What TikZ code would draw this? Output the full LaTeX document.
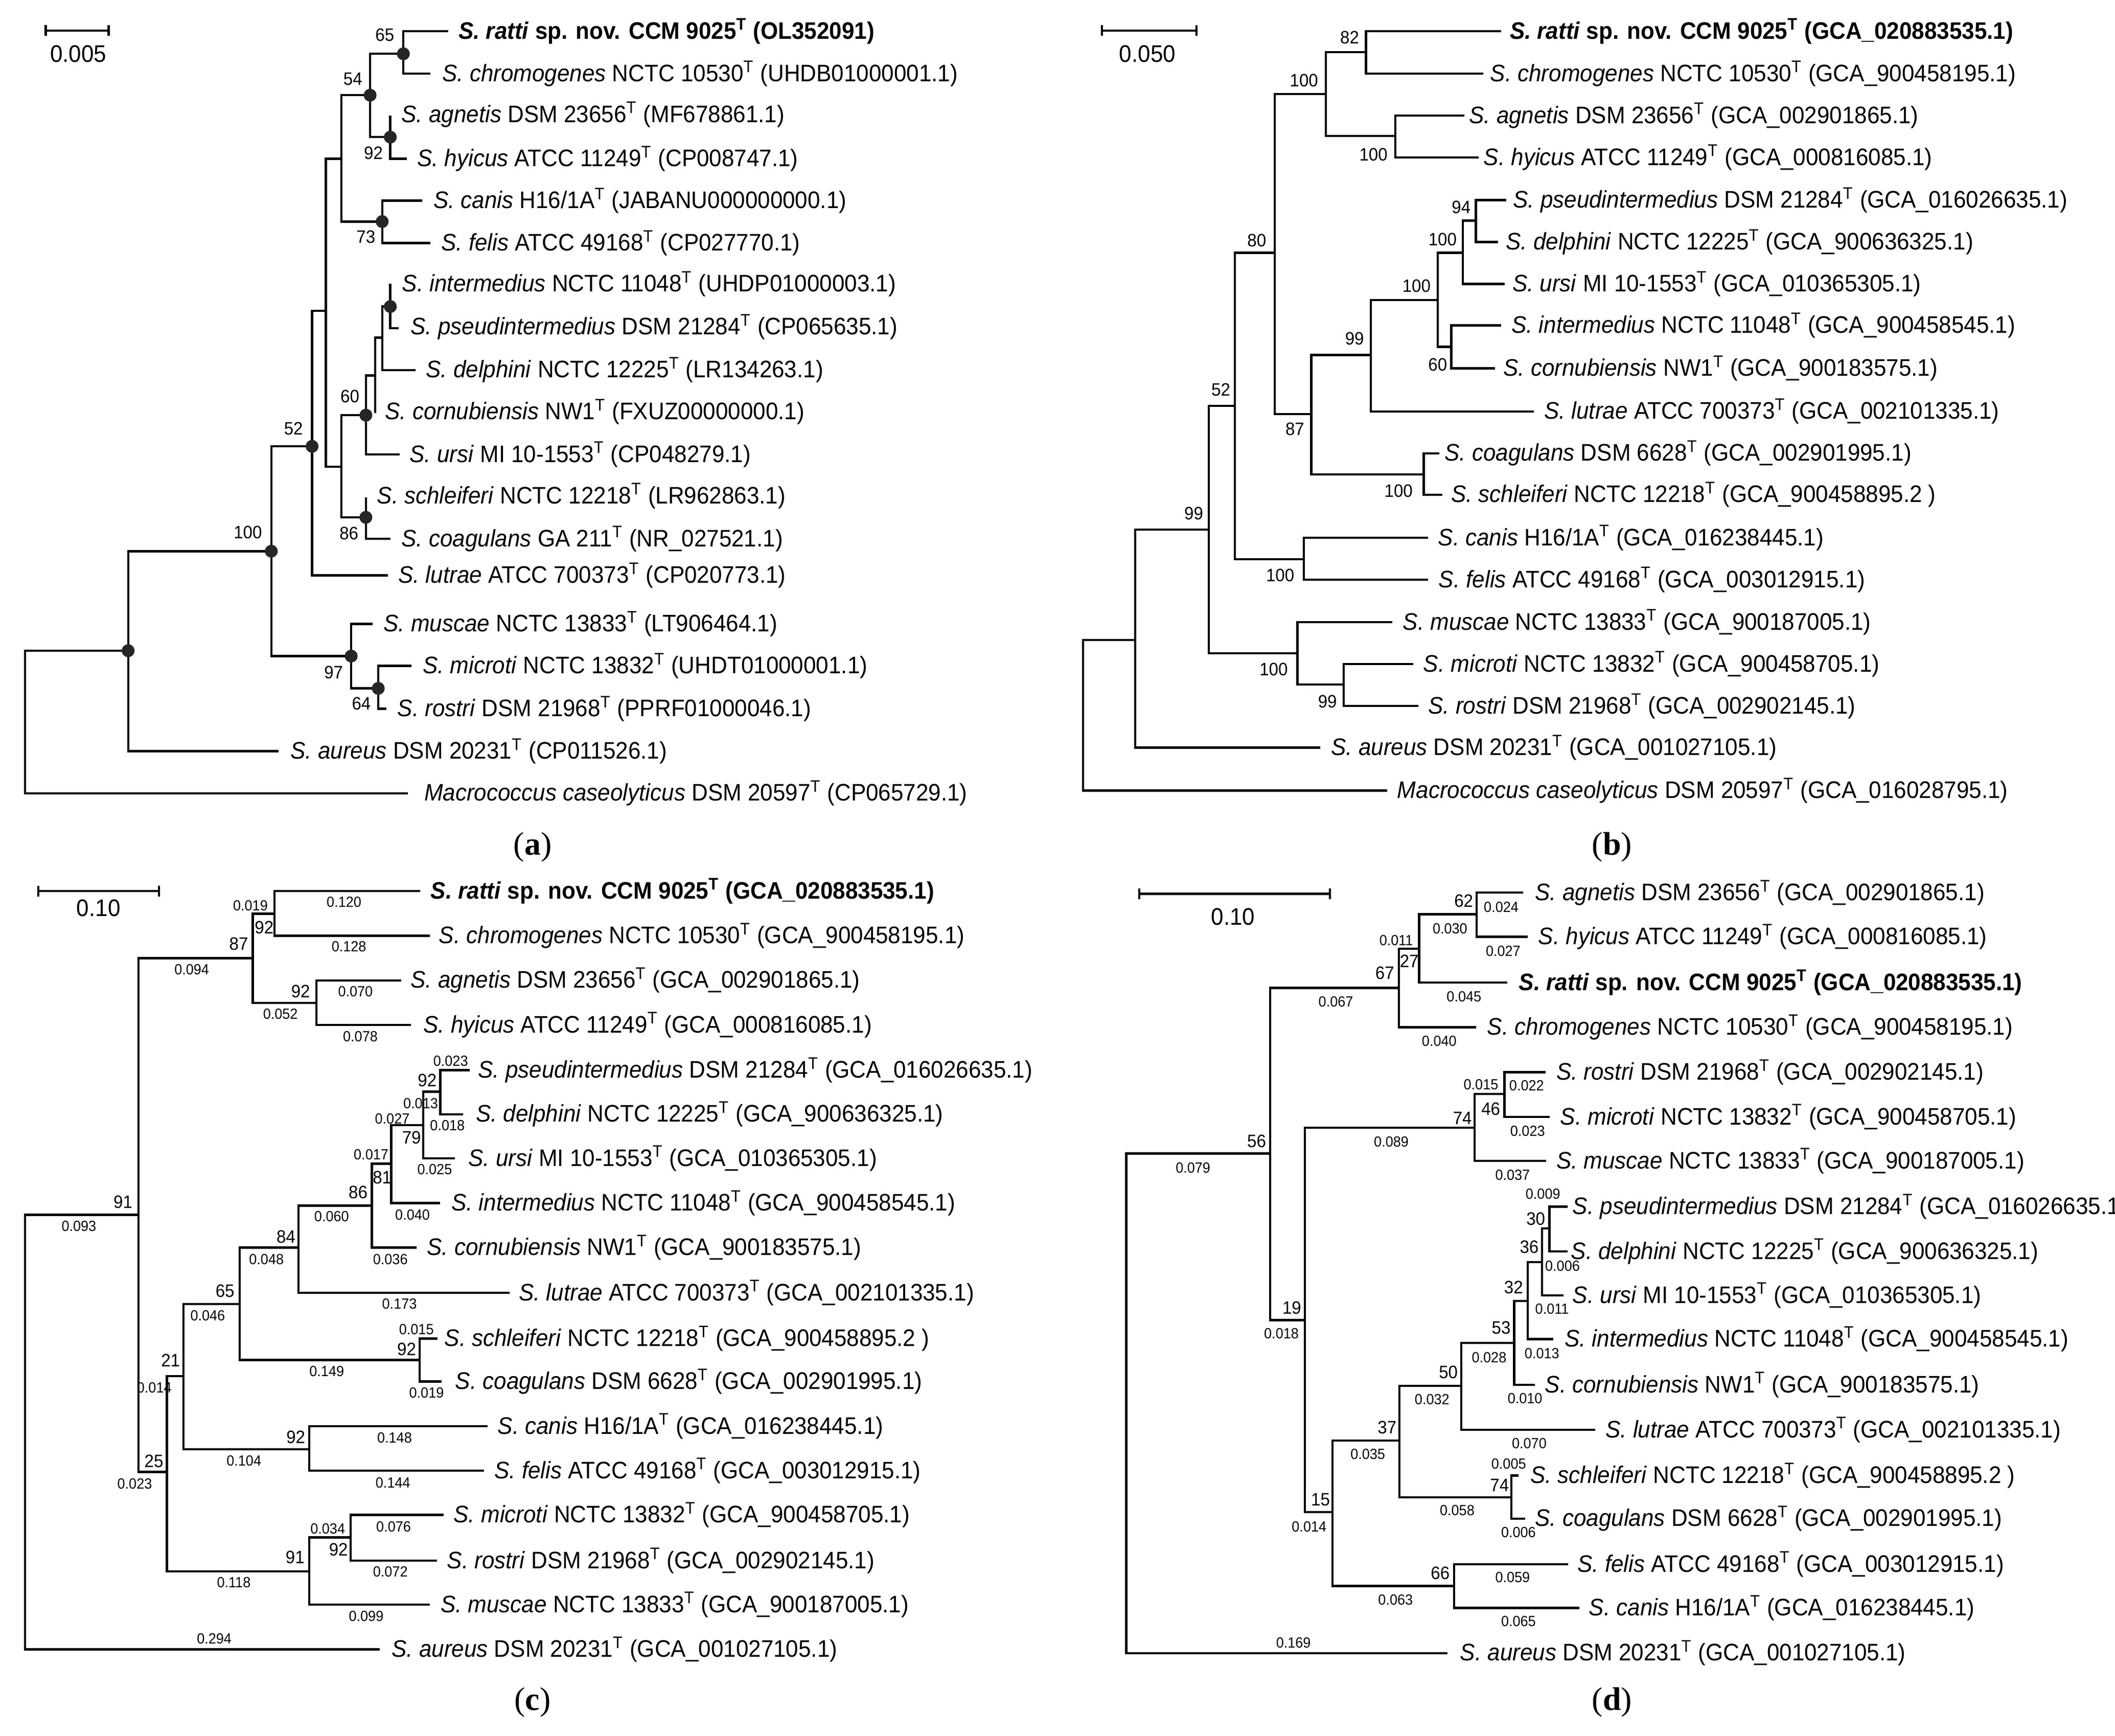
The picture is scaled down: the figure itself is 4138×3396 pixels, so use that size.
\documentclass[tikz,border=0pt]{standalone}
\usepackage{fontspec}
\setmainfont{Liberation Sans}[FakeStretch=0.94]
\newfontfamily\serifl{Liberation Serif}
\newcommand\lblf{\fontsize{11.7}{14}\selectfont}
\newcommand\bsf{\fontsize{8.8}{10}\selectfont}
\newcommand\blf{\fontsize{7.2}{8}\selectfont}
\newcommand\cld[5]{\draw[br] (#4,#2) -- (#1,#2) -- (#1,#3) -- (#5,#3);}
\newcommand\lf[4]{\node[lab] (#3) at (#1,#2) {#4};}
\newcommand\bs[3]{\node[bsn] at (#1,#2) {#3};}
\newcommand\bl[3]{\node[bln] at (#1,#2) {#3};}
\newcommand\Tt{\textsuperscript{T}}
\tikzset{br/.style={line width=1.1pt},
lab/.style={anchor=west,inner sep=0pt,font=\lblf},
bsn/.style={inner sep=0pt,font=\bsf},
bln/.style={inner sep=0pt,font=\blf},
dot/.style={circle,fill=black!85,inner sep=0pt,minimum size=6.3pt},
pl/.style={font=\serifl\fontsize{16}{18}\selectfont}}
\begin{document}
\begin{tikzpicture}[x=0.25pt,y=-0.25pt]
\useasboundingbox (0,0) rectangle (4138,3396);
% ---------- (a)
\begin{scope}[xscale=0.638,yscale=1.052]
\draw[br] (140,47)--(140,67) (140,57)--(333,57)--(333,47)--(333,67);
\node[font=\lblf] (sa) at (240,100) {0.005};
\cld{1237}{58}{137}{1375}{1320}
\cld{1197}{215}{295}{1197}{1248}
\cld{1135}{100}{255}{1237}{1197}
\cld{1172}{373}{452}{1295}{1320}
\cld{1047}{177}{412}{1135}{1172}
\cld{1197}{528}{610}{1197}{1222}
\cld{1172}{570}{688}{1197}{1275}
\cld{1150}{628}{768}{1172}{1150}
\draw[br] (1122,698)--(1150,698);
\cld{1122}{698}{845}{1150}{1225}
\cld{1122}{925}{1002}{1122}{1197}
\cld{1047}{772}{962}{1122}{1122}
\cld{999}{295}{868}{1047}{1047}
\cld{957}{578}{1070}{999}{1190}
\cld{1160}{1238}{1318}{1262}{1185}
\cld{1077}{1160}{1280}{1142}{1160}
\cld{832}{830}{1220}{957}{1077}
\cld{393}{1025}{1397}{832}{855}
\cld{77}{1210}{1475}{393}{1250}
\foreach \p in {(1237,100),(1135,177),(1197,255),(1172,412),(1197,570),(1122,772),(1122,962),(957,830),(832,1025),(1077,1220),(1160,1280),(393,1210)} \node[dot] at \p {};
\bs{1180}{65}{65}\bs{1082}{147}{54}\bs{1145}{285}{92}\bs{1122}{440}{73}\bs{1073}{737}{60}
\bs{900}{797}{52}\bs{760}{990}{100}\bs{1023}{1250}{97}\bs{1108}{1308}{64}\bs{1070}{992}{86}
\lf{1405}{58}{a1}{\textbf{\textit{S. ratti} sp. nov. CCM 9025\Tt\ (OL352091)}}
\lf{1355}{137}{a2}{\textit{S. chromogenes} NCTC 10530\Tt\ (UHDB01000001.1)}
\lf{1230}{213}{a3}{\textit{S. agnetis} DSM 23656\Tt\ (MF678861.1)}
\lf{1278}{295}{a4}{\textit{S. hyicus} ATCC 11249\Tt\ (CP008747.1)}
\lf{1328}{373}{a5}{\textit{S. canis} H16/1A\Tt\ (JABANU000000000.1)}
\lf{1352}{452}{a6}{\textit{S. felis} ATCC 49168\Tt\ (CP027770.1)}
\lf{1232}{528}{a7}{\textit{S. intermedius} NCTC 11048\Tt\ (UHDP01000003.1)}
\lf{1258}{608}{a8}{\textit{S. pseudintermedius} DSM 21284\Tt\ (CP065635.1)}
\lf{1305}{688}{a9}{\textit{S. delphini} NCTC 12225\Tt\ (LR134263.1)}
\lf{1180}{766}{a10}{\textit{S. cornubiensis} NW1\Tt\ (FXUZ00000000.1)}
\lf{1255}{845}{a11}{\textit{S. ursi} MI 10-1553\Tt\ (CP048279.1)}
\lf{1155}{922}{a12}{\textit{S. schleiferi} NCTC 12218\Tt\ (LR962863.1)}
\lf{1230}{1002}{a13}{\textit{S. coagulans} GA 211\Tt\ (NR\_027521.1)}
\lf{1220}{1070}{a14}{\textit{S. lutrae} ATCC 700373\Tt\ (CP020773.1)}
\lf{1175}{1160}{a15}{\textit{S. muscae} NCTC 13833\Tt\ (LT906464.1)}
\lf{1295}{1238}{a16}{\textit{S. microti} NCTC 13832\Tt\ (UHDT01000001.1)}
\lf{1218}{1318}{a17}{\textit{S. rostri} DSM 21968\Tt\ (PPRF01000046.1)}
\lf{890}{1397}{a18}{\textit{S. aureus} DSM 20231\Tt\ (CP011526.1)}
\lf{1300}{1475}{a19}{\textit{Macrococcus caseolyticus} DSM 20597\Tt\ (CP065729.1)}
\end{scope}
\node[pl] (pa) at (1042,1657) {(\textbf{a})};
% ---------- (b)
\begin{scope}[shift={(2060,0)},xscale=0.638,yscale=1.052]
\draw[br] (150,47)--(150,67) (150,57)--(440,57)--(440,47)--(440,67);
\node[font=\lblf] (sb) at (290,100) {0.050};
\cld{92}{1190}{1470}{252}{1025}
\cld{252}{985}{1390}{478}{820}
\cld{478}{755}{1215}{558}{750}
\cld{750}{1157}{1273}{1040}{892}
\cld{892}{1235}{1313}{1105}{1120}
\cld{558}{470}{1040}{680}{770}
\cld{770}{1000}{1078}{1150}{1150}
\cld{680}{175}{770}{837}{792}
\cld{837}{97}{253}{960}{1050}
\cld{960}{58}{137}{1375}{1320}
\cld{1050}{215}{293}{1262}{1305}
\cld{792}{660}{882}{975}{1137}
\cld{975}{558}{765}{1180}{1475}
\cld{1180}{470}{645}{1257}{1222}
\cld{1257}{410}{528}{1297}{1385}
\cld{1297}{372}{450}{1390}{1365}
\cld{1222}{605}{685}{1375}{1355}
\cld{1137}{843}{920}{1185}{1195}
\bs{910}{70}{82}\bs{770}{150}{100}\bs{983}{287}{100}\bs{1252}{385}{94}\bs{1195}{445}{100}
\bs{1115}{532}{100}\bs{925}{630}{99}\bs{1180}{678}{60}\bs{625}{447}{80}\bs{742}{798}{87}
\bs{1060}{913}{100}\bs{515}{725}{52}\bs{432}{955}{99}\bs{697}{1070}{100}\bs{677}{1245}{100}\bs{842}{1305}{99}
\lf{1400}{58}{b1}{\textbf{\textit{S. ratti} sp. nov. CCM 9025\Tt\ (GCA\_020883535.1)}}
\lf{1340}{137}{b2}{\textit{S. chromogenes} NCTC 10530\Tt\ (GCA\_900458195.1)}
\lf{1275}{215}{b3}{\textit{S. agnetis} DSM 23656\Tt\ (GCA\_002901865.1)}
\lf{1320}{293}{b4}{\textit{S. hyicus} ATCC 11249\Tt\ (GCA\_000816085.1)}
\lf{1410}{372}{b5}{\textit{S. pseudintermedius} DSM 21284\Tt\ (GCA\_016026635.1)}
\lf{1388}{450}{b6}{\textit{S. delphini} NCTC 12225\Tt\ (GCA\_900636325.1)}
\lf{1408}{528}{b7}{\textit{S. ursi} MI 10-1553\Tt\ (GCA\_010365305.1)}
\lf{1405}{605}{b8}{\textit{S. intermedius} NCTC 11048\Tt\ (GCA\_900458545.1)}
\lf{1380}{685}{b9}{\textit{S. cornubiensis} NW1\Tt\ (GCA\_900183575.1)}
\lf{1505}{765}{b10}{\textit{S. lutrae} ATCC 700373\Tt\ (GCA\_002101335.1)}
\lf{1200}{843}{b11}{\textit{S. coagulans} DSM 6628\Tt\ (GCA\_002901995.1)}
\lf{1220}{920}{b12}{\textit{S. schleiferi} NCTC 12218\Tt\ (GCA\_900458895.2 )}
\lf{1180}{1000}{b13}{\textit{S. canis} H16/1A\Tt\ (GCA\_016238445.1)}
\lf{1182}{1078}{b14}{\textit{S. felis} ATCC 49168\Tt\ (GCA\_003012915.1)}
\lf{1072}{1157}{b15}{\textit{S. muscae} NCTC 13833\Tt\ (GCA\_900187005.1)}
\lf{1135}{1235}{b16}{\textit{S. microti} NCTC 13832\Tt\ (GCA\_900458705.1)}
\lf{1150}{1313}{b17}{\textit{S. rostri} DSM 21968\Tt\ (GCA\_002902145.1)}
\lf{852}{1390}{b18}{\textit{S. aureus} DSM 20231\Tt\ (GCA\_001027105.1)}
\lf{1055}{1470}{b19}{\textit{Macrococcus caseolyticus} DSM 20597\Tt\ (GCA\_016028795.1)}
\end{scope}
\node[pl] (pb) at (3154,1657) {(\textbf{b})};
% ---------- (c)
\begin{scope}[shift={(0,1680)},xscale=0.638,yscale=1.052]
\draw[br] (118,50)--(118,70) (118,60)--(487,60)--(487,50)--(487,70);
\node[font=\lblf] (sc) at (302,92) {0.10};
\cld{77}{662}{1470}{425}{1165}
\cld{425}{185}{1140}{775}{512}
\cld{775}{102}{268}{842}{970}
\cld{842}{60}{143}{1288}{1318}
\cld{970}{226}{309}{1230}{1260}
\cld{512}{962}{1325}{563}{948}
\cld{563}{828}{1098}{735}{948}
\cld{948}{1262}{1387}{1075}{1318}
\cld{1075}{1220}{1305}{1360}{1340}
\cld{948}{1055}{1138}{1495}{1485}
\cld{735}{723}{932}{915}{1287}
\cld{1287}{892}{972}{1342}{1355}
\cld{915}{645}{807}{1140}{1562}
\cld{1140}{567}{723}{1200}{1278}
\cld{1200}{495}{640}{1298}{1350}
\cld{1298}{433}{557}{1350}{1395}
\cld{1350}{393}{475}{1440}{1420}
\bs{377}{638}{91}\bs{732}{158}{87}\bs{472}{1120}{25}\bs{810}{128}{92}\bs{922}{247}{92}
\bs{523}{933}{21}\bs{905}{1299}{91}\bs{690}{804}{65}\bs{907}{1075}{92}\bs{1038}{1285}{92}
\bs{877}{703}{84}\bs{1247}{912}{92}\bs{1098}{620}{86}\bs{1172}{593}{81}\bs{1262}{518}{79}\bs{1310}{412}{92}
\bl{657}{1450}{0.294}\bl{242}{683}{0.093}\bl{588}{206}{0.094}\bl{413}{1162}{0.023}
\bl{768}{87}{0.019}\bl{860}{289}{0.052}\bl{1055}{80}{0.120}\bl{1070}{163}{0.128}
\bl{1090}{247}{0.070}\bl{1105}{330}{0.078}\bl{473}{983}{0.014}\bl{717}{1346}{0.118}
\bl{637}{849}{0.046}\bl{748}{1119}{0.104}\bl{1123}{1408}{0.099}\bl{1005}{1246}{0.034}
\bl{1207}{1242}{0.076}\bl{1197}{1326}{0.072}\bl{1210}{1077}{0.148}\bl{1205}{1160}{0.144}
\bl{817}{745}{0.048}\bl{1002}{953}{0.149}\bl{1277}{875}{0.015}\bl{1308}{993}{0.019}
\bl{1225}{828}{0.173}\bl{1017}{665}{0.060}\bl{1197}{745}{0.036}\bl{1138}{550}{0.017}
\bl{1265}{662}{0.040}\bl{1203}{483}{0.027}\bl{1333}{578}{0.025}\bl{1290}{455}{0.013}
\bl{1382}{376}{0.023}\bl{1372}{496}{0.018}
\lf{1320}{60}{c1}{\textbf{\textit{S. ratti} sp. nov. CCM 9025\Tt\ (GCA\_020883535.1)}}
\lf{1345}{143}{c2}{\textit{S. chromogenes} NCTC 10530\Tt\ (GCA\_900458195.1)}
\lf{1258}{226}{c3}{\textit{S. agnetis} DSM 23656\Tt\ (GCA\_002901865.1)}
\lf{1297}{309}{c4}{\textit{S. hyicus} ATCC 11249\Tt\ (GCA\_000816085.1)}
\lf{1465}{393}{c5}{\textit{S. pseudintermedius} DSM 21284\Tt\ (GCA\_016026635.1)}
\lf{1458}{475}{c6}{\textit{S. delphini} NCTC 12225\Tt\ (GCA\_900636325.1)}
\lf{1435}{557}{c7}{\textit{S. ursi} MI 10-1553\Tt\ (GCA\_010365305.1)}
\lf{1383}{640}{c8}{\textit{S. intermedius} NCTC 11048\Tt\ (GCA\_900458545.1)}
\lf{1308}{723}{c9}{\textit{S. cornubiensis} NW1\Tt\ (GCA\_900183575.1)}
\lf{1590}{807}{c10}{\textit{S. lutrae} ATCC 700373\Tt\ (GCA\_002101335.1)}
\lf{1362}{892}{c11}{\textit{S. schleiferi} NCTC 12218\Tt\ (GCA\_900458895.2 )}
\lf{1395}{972}{c12}{\textit{S. coagulans} DSM 6628\Tt\ (GCA\_002901995.1)}
\lf{1525}{1055}{c13}{\textit{S. canis} H16/1A\Tt\ (GCA\_016238445.1)}
\lf{1515}{1138}{c14}{\textit{S. felis} ATCC 49168\Tt\ (GCA\_003012915.1)}
\lf{1390}{1220}{c15}{\textit{S. microti} NCTC 13832\Tt\ (GCA\_900458705.1)}
\lf{1370}{1305}{c16}{\textit{S. rostri} DSM 21968\Tt\ (GCA\_002902145.1)}
\lf{1350}{1387}{c17}{\textit{S. muscae} NCTC 13833\Tt\ (GCA\_900187005.1)}
\lf{1200}{1470}{c18}{\textit{S. aureus} DSM 20231\Tt\ (GCA\_001027105.1)}
\end{scope}
\node[pl] (pc) at (1042,3330) {(\textbf{c})};
% ---------- (d)
\begin{scope}[shift={(2100,1680)},xscale=0.638,yscale=1.052]
\draw[br] (202,55)--(202,75) (202,65)--(787,65)--(787,55)--(787,75);
\node[font=\lblf] (sd) at (490,108) {0.10};
\cld{162}{548}{1477}{603}{1148}
\cld{603}{240}{858}{998}{710}
\cld{998}{167}{313}{1060}{1235}
\cld{1060}{103}{230}{1237}{1330}
\cld{1237}{63}{145}{1380}{1393}
\cld{710}{500}{1215}{1230}{795}
\cld{1230}{437}{562}{1322}{1450}
\cld{1322}{397}{480}{1448}{1460}
\cld{795}{1082}{1352}{1000}{1168}
\cld{1168}{1312}{1393}{1517}{1552}
\cld{1000}{980}{1187}{1190}{1343}
\cld{1343}{1147}{1227}{1365}{1385}
\cld{1190}{900}{1062}{1352}{1600}
\cld{1352}{822}{978}{1393}{1415}
\cld{1393}{750}{893}{1437}{1472}
\cld{1437}{687}{812}{1460}{1503}
\cld{1460}{647}{730}{1515}{1515}
\bs{562}{525}{56}\bs{955}{212}{67}\bs{670}{835}{19}\bs{1030}{190}{27}\bs{1197}{78}{62}
\bs{1193}{482}{74}\bs{758}{1192}{15}\bs{1280}{465}{46}\bs{962}{1057}{37}\bs{1125}{1328}{66}
\bs{1150}{955}{50}\bs{1307}{1165}{74}\bs{1312}{872}{53}\bs{1350}{797}{32}\bs{1398}{722}{36}\bs{1418}{670}{30}
\bl{675}{1458}{0.169}\bl{367}{575}{0.079}\bl{805}{266}{0.067}\bl{638}{883}{0.018}
\bl{1122}{339}{0.040}\bl{990}{152}{0.011}\bl{1198}{256}{0.045}\bl{1155}{130}{0.030}
\bl{1312}{90}{0.024}\bl{1318}{172}{0.027}\bl{975}{526}{0.089}\bl{723}{1242}{0.014}
\bl{1347}{588}{0.037}\bl{1250}{420}{0.015}\bl{1390}{422}{0.022}\bl{1393}{506}{0.023}
\bl{903}{1107}{0.035}\bl{988}{1378}{0.063}\bl{1347}{1336}{0.059}\bl{1365}{1418}{0.065}
\bl{1100}{1005}{0.032}\bl{1177}{1212}{0.058}\bl{1335}{1125}{0.005}\bl{1365}{1252}{0.006}
\bl{1398}{1087}{0.070}\bl{1275}{927}{0.028}\bl{1385}{1003}{0.010}\bl{1437}{920}{0.013}
\bl{1468}{837}{0.011}\bl{1440}{623}{0.009}\bl{1500}{757}{0.006}
\lf{1415}{63}{d1}{\textit{S. agnetis} DSM 23656\Tt\ (GCA\_002901865.1)}
\lf{1425}{145}{d2}{\textit{S. hyicus} ATCC 11249\Tt\ (GCA\_000816085.1)}
\lf{1365}{230}{d3}{\textbf{\textit{S. ratti} sp. nov. CCM 9025\Tt\ (GCA\_020883535.1)}}
\lf{1268}{313}{d4}{\textit{S. chromogenes} NCTC 10530\Tt\ (GCA\_900458195.1)}
\lf{1480}{397}{d5}{\textit{S. rostri} DSM 21968\Tt\ (GCA\_002902145.1)}
\lf{1492}{480}{d6}{\textit{S. microti} NCTC 13832\Tt\ (GCA\_900458705.1)}
\lf{1480}{562}{d7}{\textit{S. muscae} NCTC 13833\Tt\ (GCA\_900187005.1)}
\lf{1530}{647}{d8}{\textit{S. pseudintermedius} DSM 21284\Tt\ (GCA\_016026635.1)}
\lf{1525}{730}{d9}{\textit{S. delphini} NCTC 12225\Tt\ (GCA\_900636325.1)}
\lf{1530}{812}{d10}{\textit{S. ursi} MI 10-1553\Tt\ (GCA\_010365305.1)}
\lf{1505}{893}{d11}{\textit{S. intermedius} NCTC 11048\Tt\ (GCA\_900458545.1)}
\lf{1445}{978}{d12}{\textit{S. cornubiensis} NW1\Tt\ (GCA\_900183575.1)}
\lf{1631}{1062}{d13}{\textit{S. lutrae} ATCC 700373\Tt\ (GCA\_002101335.1)}
\lf{1400}{1147}{d14}{\textit{S. schleiferi} NCTC 12218\Tt\ (GCA\_900458895.2 )}
\lf{1415}{1227}{d15}{\textit{S. coagulans} DSM 6628\Tt\ (GCA\_002901995.1)}
\lf{1545}{1312}{d16}{\textit{S. felis} ATCC 49168\Tt\ (GCA\_003012915.1)}
\lf{1580}{1393}{d17}{\textit{S. canis} H16/1A\Tt\ (GCA\_016238445.1)}
\lf{1185}{1477}{d18}{\textit{S. aureus} DSM 20231\Tt\ (GCA\_001027105.1)}
\end{scope}
\node[pl] (pd) at (3154,3330) {(\textbf{d})};
\end{tikzpicture}
\end{document}
